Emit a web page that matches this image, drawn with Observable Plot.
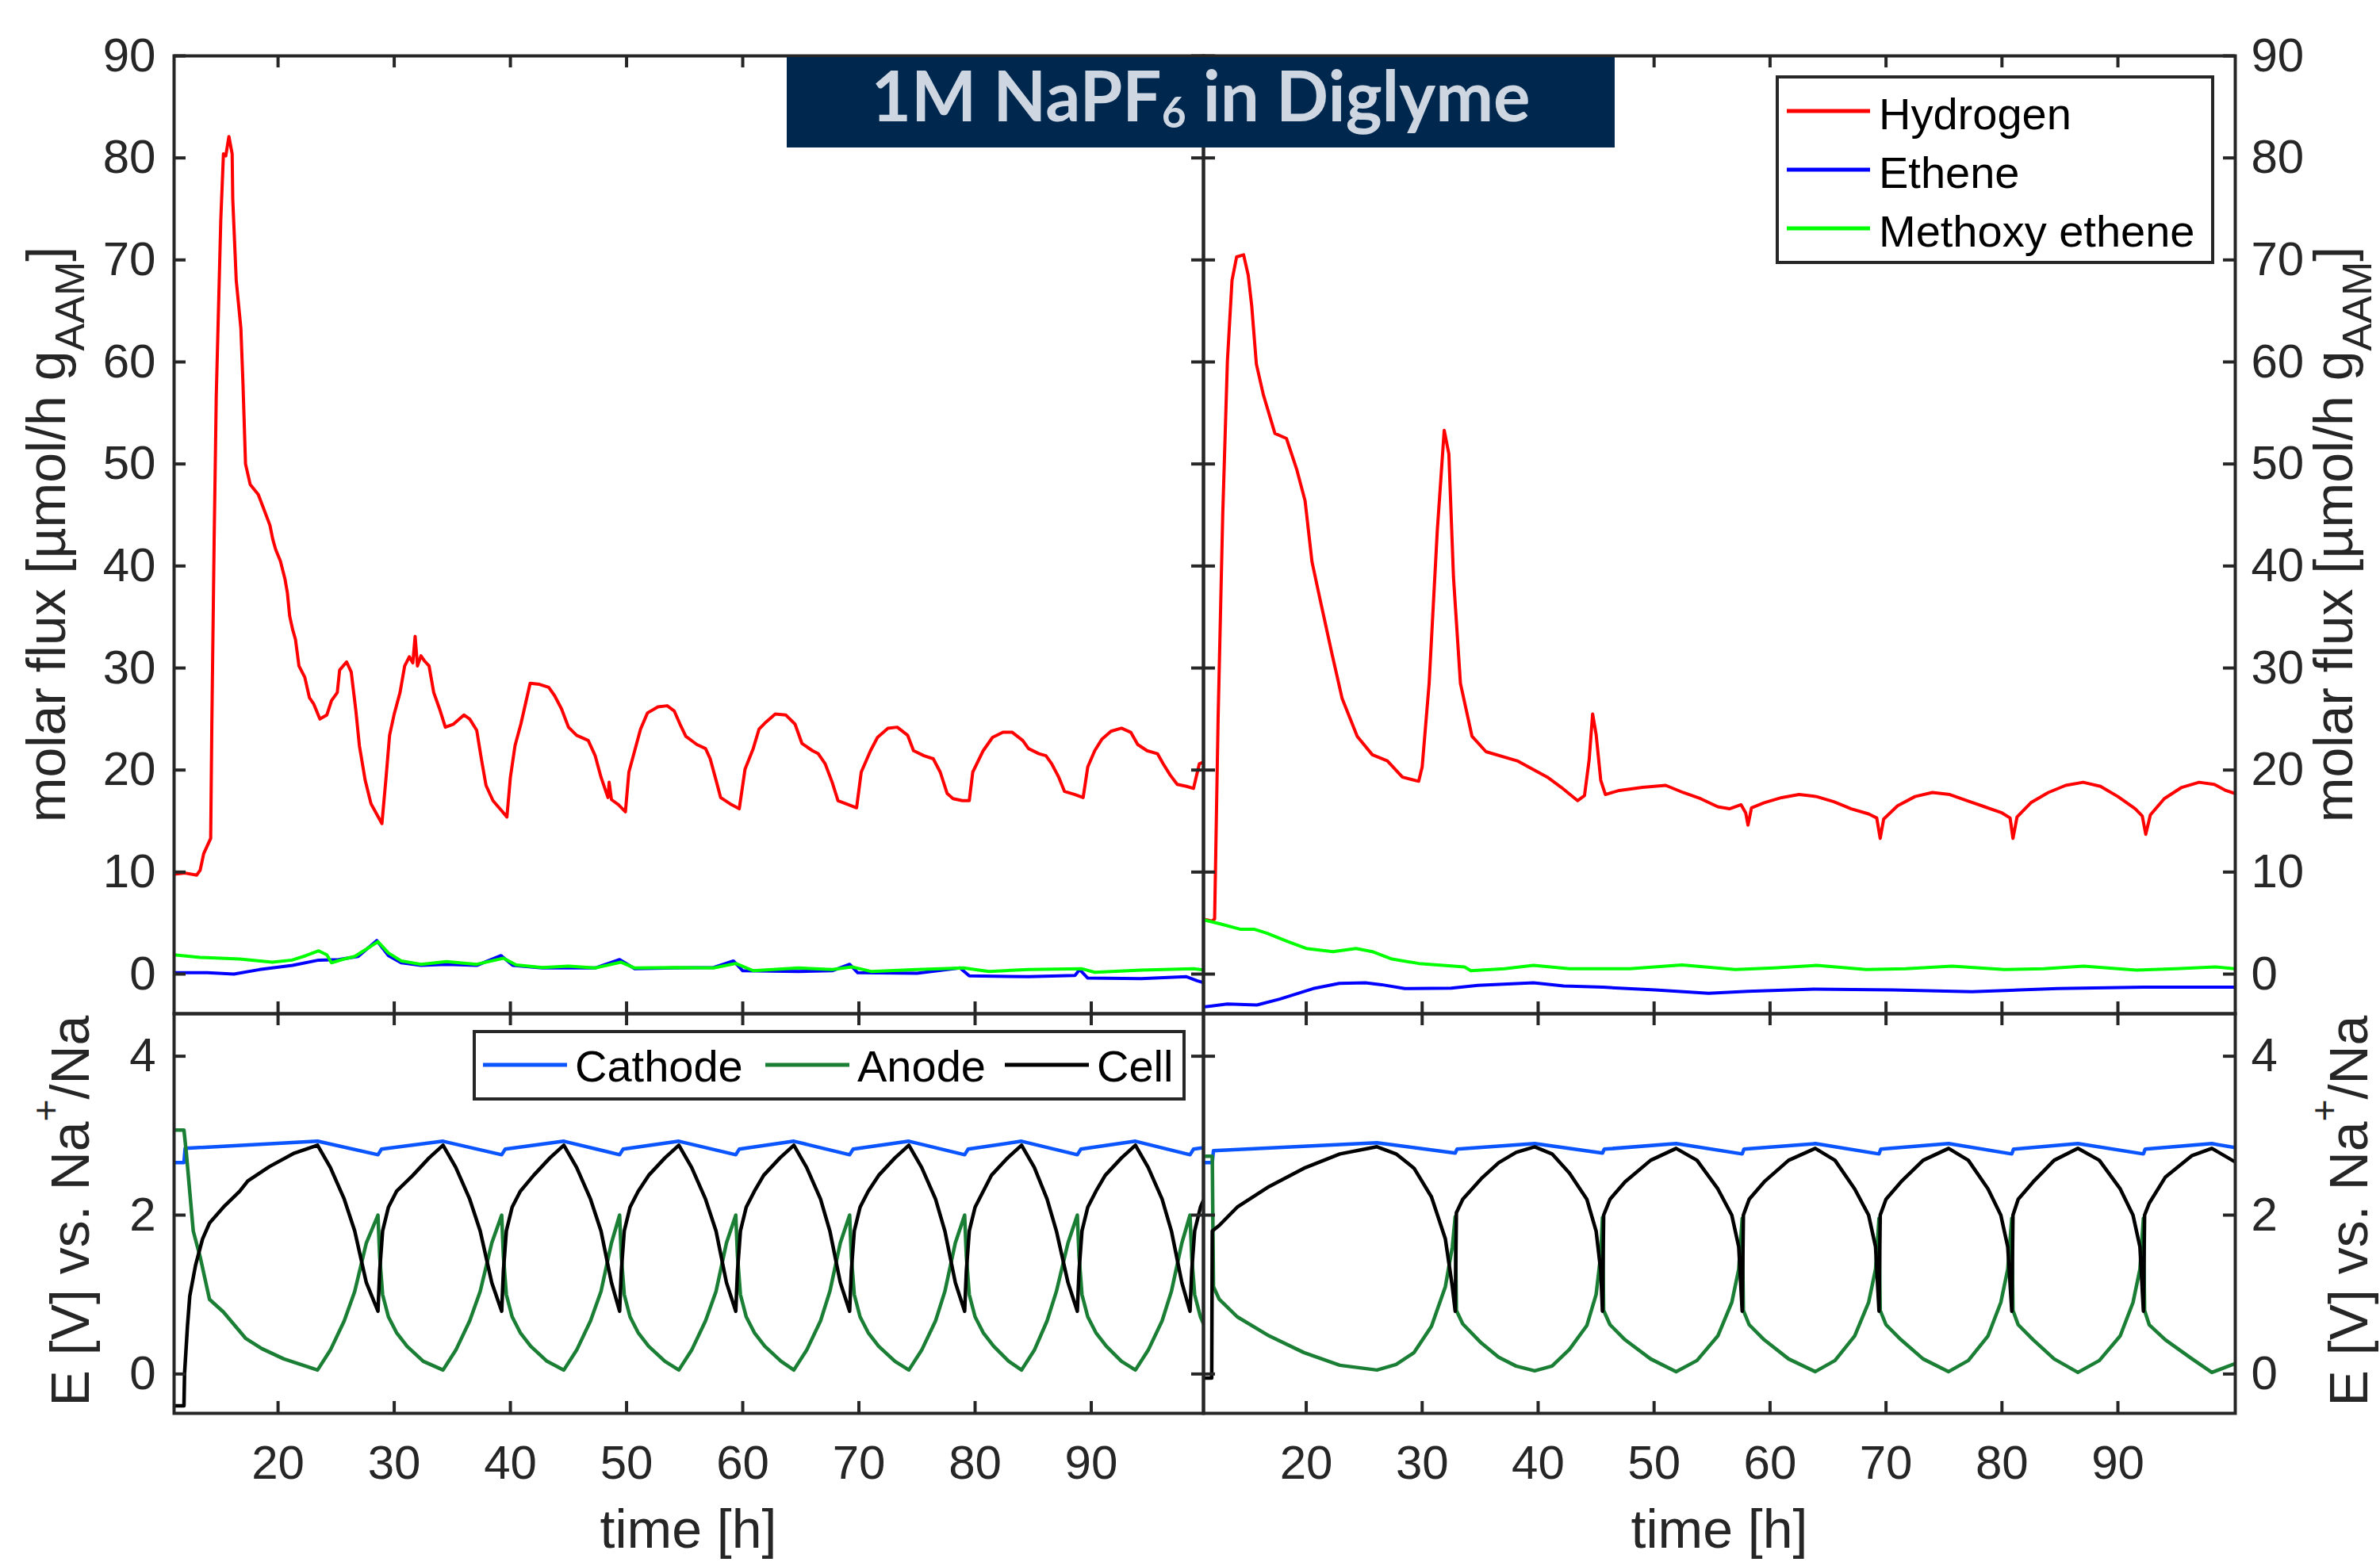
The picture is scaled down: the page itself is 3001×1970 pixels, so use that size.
<!DOCTYPE html>
<html><head><meta charset="utf-8">
<script src="https://cdn.jsdelivr.net/npm/d3@7"></script>
<script src="https://cdn.jsdelivr.net/npm/@observablehq/plot@0.6"></script>
<style>
html,body{margin:0;padding:0;background:#fff;}
#chart{position:relative;width:3001px;height:1970px;overflow:hidden;background:#fff;}
#chart svg{position:absolute;left:0;top:0;}
</style></head><body><div id="chart"></div>
<script>
// ---------------- data ----------------
const xTicks = [20, 30, 40, 50, 60, 70, 80, 90];
const fluxTicks = [0, 10, 20, 30, 40, 50, 60, 70, 80, 90];
const potTicks = [0, 2, 4];
const fluxLegend = ["Hydrogen", "Ethene", "Methoxy ethene"];
const potLegend = ["Cathode", "Anode", "Cell"];

const hydrogenL = [[11.06,9.8],[12.0,9.9],[13.0,9.7],[13.3,10.2],[13.6,11.8],[14.2,13.3],[14.3,24.5],[14.5,42.6],[14.68,56.6],[15.07,73.9],[15.3,80.4],[15.5,80.2],[15.77,82.1],[16.05,80.4],[16.1,76],[16.4,68],[16.8,63.3],[16.98,57.9],[17.2,50],[17.6,48],[18.3,47],[18.8,45.5],[19.3,44],[19.55,42.6],[19.8,41.6],[20.2,40.5],[20.6,38.7],[20.8,37.4],[21.0,35.1],[21.25,33.8],[21.5,32.8],[21.8,30.2],[22.3,29.1],[22.7,27.1],[23.06,26.5],[23.6,25.0],[24.2,25.4],[24.6,26.8],[25.1,27.6],[25.3,29.8],[25.9,30.6],[26.3,29.6],[26.7,25.8],[27.0,22.4],[27.5,19.0],[28.0,16.7],[28.94,14.75],[29.3,19.3],[29.6,23.4],[30.0,25.5],[30.5,27.6],[30.9,30.2],[31.3,31.1],[31.6,30.5],[31.8,33.1],[32.0,30.2],[32.3,31.2],[32.6,30.7],[33.0,30.2],[33.4,27.6],[33.9,26.0],[34.4,24.2],[35.1,24.5],[36.0,25.4],[36.5,25.0],[37.1,23.9],[37.5,21.1],[37.9,18.5],[38.5,17.0],[39.1,16.2],[39.7,15.4],[40.0,19.3],[40.4,22.4],[40.9,24.5],[41.3,26.5],[41.7,28.5],[42.5,28.4],[43.3,28.1],[43.8,27.3],[44.4,26.0],[45.0,24.2],[45.7,23.4],[46.7,22.9],[47.3,21.4],[47.8,19.3],[48.4,17.3],[48.5,18.8],[48.7,17.1],[49.3,16.6],[49.9,15.9],[50.2,19.8],[50.7,21.9],[51.2,24.0],[51.8,25.6],[52.7,26.2],[53.5,26.3],[54.1,25.8],[54.6,24.5],[55.1,23.3],[56.05,22.5],[56.8,22.1],[57.2,21.1],[57.75,18.8],[58.1,17.3],[58.9,16.7],[59.7,16.2],[60.2,20.1],[60.9,22.1],[61.4,24.0],[62.0,24.7],[62.8,25.5],[63.7,25.4],[64.5,24.5],[65.1,22.6],[66.0,21.9],[66.5,21.6],[67.1,20.6],[67.7,18.8],[68.2,17.0],[69.1,16.6],[69.8,16.3],[70.2,19.8],[71.0,21.9],[71.6,23.2],[72.5,24.1],[73.3,24.2],[74.2,23.4],[74.7,21.9],[75.6,21.4],[76.4,21.1],[77.0,19.8],[77.6,17.7],[78.1,17.2],[78.9,17.0],[79.5,17.0],[79.8,19.8],[80.7,21.9],[81.5,23.2],[82.4,23.7],[83.2,23.7],[84.1,22.9],[84.6,22.1],[85.5,21.6],[86.1,21.4],[86.6,20.6],[87.2,19.3],[87.7,17.9],[88.6,17.6],[89.3,17.3],[89.7,20.3],[90.3,21.9],[90.9,23.0],[91.7,23.8],[92.6,24.1],[93.4,23.7],[94.0,22.5],[94.8,21.9],[95.7,21.6],[96.2,20.6],[96.8,19.5],[97.4,18.6],[98.2,18.4],[98.8,18.2],[99.3,20.6],[99.7,20.8]];
const etheneL = [[11.06,0.13],[13.9,0.13],[16.2,0.0],[18.4,0.44],[21.25,0.85],[23.5,1.37],[25.2,1.42],[26.9,1.73],[28.5,3.29],[29.5,1.81],[30.6,1.11],[32.3,0.85],[34.5,0.96],[37.1,0.85],[39.2,1.81],[40.2,0.85],[42.75,0.6],[47.3,0.6],[49.4,1.42],[50.7,0.52],[54.1,0.6],[57.5,0.65],[59.2,1.29],[60.0,0.33],[64.8,0.26],[67.7,0.33],[69.2,0.96],[69.9,0.13],[75.0,0.08],[78.7,0.6],[79.5,-0.18],[84.6,-0.26],[88.6,-0.13],[89.0,0.44],[89.7,-0.39],[94.3,-0.44],[98.2,-0.26],[99.1,-0.65],[99.7,-0.85]];
const methoxyL = [[11.06,1.89],[13.3,1.63],[16.7,1.47],[19.5,1.17],[21.2,1.37],[22.4,1.81],[23.5,2.28],[24.2,1.89],[24.6,1.11],[25.5,1.42],[26.6,1.73],[27.8,2.59],[28.6,3.18],[29.5,2.07],[30.6,1.29],[32.3,0.96],[34.5,1.22],[37.1,0.96],[39.4,1.55],[40.5,0.9],[42.75,0.65],[45.0,0.78],[47.3,0.6],[49.5,1.17],[50.7,0.6],[54.1,0.65],[57.5,0.6],[59.4,1.04],[60.9,0.33],[64.8,0.6],[67.7,0.44],[69.4,0.7],[71.05,0.26],[75.0,0.44],[79.0,0.6],[81.2,0.26],[84.6,0.44],[89.2,0.52],[90.3,0.18],[94.3,0.39],[98.8,0.52],[99.7,0.39]];

const hydrogenR = [[11.0,5.4],[11.9,5.2],[12.1,5.4],[12.4,25],[12.8,45],[13.2,60],[13.6,68],[14.0,70.3],[14.6,70.5],[15.0,68.5],[15.3,65.5],[15.7,59.8],[16.3,56.8],[17.3,53.0],[18.3,52.5],[19.2,49.4],[19.9,46.4],[20.5,40.4],[21.2,36.7],[22.2,31.5],[23.1,27.0],[24.4,23.3],[25.7,21.5],[27.0,20.9],[28.3,19.3],[29.7,18.9],[30.0,20.3],[30.6,28.5],[31.3,43.4],[31.9,53.3],[32.3,51.0],[32.7,38.9],[33.3,28.5],[34.3,23.3],[35.5,21.8],[38.2,20.9],[40.8,19.3],[42.0,18.3],[43.4,17.0],[44.0,17.5],[44.4,21.0],[44.7,25.5],[45.0,23.5],[45.4,19.0],[45.8,17.6],[47.0,18.0],[49.0,18.3],[51.0,18.5],[52.5,17.8],[54.0,17.2],[55.5,16.4],[56.5,16.2],[57.5,16.6],[57.9,15.8],[58.1,14.6],[58.4,16.3],[59.5,16.8],[61.0,17.3],[62.5,17.6],[64.0,17.4],[65.5,16.9],[67.0,16.2],[68.5,15.7],[69.2,15.3],[69.5,13.3],[69.8,15.2],[71.0,16.5],[72.5,17.4],[74.0,17.8],[75.5,17.6],[77.0,17.0],[78.5,16.4],[80.0,15.8],[80.7,15.3],[80.95,13.3],[81.3,15.4],[82.5,16.8],[84.0,17.8],[85.5,18.5],[87.0,18.8],[88.5,18.4],[90.0,17.4],[91.5,16.2],[92.1,15.5],[92.4,13.7],[92.8,15.6],[94.0,17.2],[95.5,18.3],[97.0,18.8],[98.3,18.6],[99.3,18.0],[100.1,17.7]];
const etheneR = [[11.0,-3.24],[13.2,-2.93],[15.75,-3.03],[17.7,-2.46],[20.6,-1.42],[22.85,-0.91],[25.1,-0.85],[26.5,-1.04],[28.5,-1.42],[32.5,-1.37],[34.8,-1.11],[39.6,-0.85],[42.2,-1.17],[45.6,-1.29],[50.1,-1.55],[54.7,-1.89],[58.1,-1.68],[63.8,-1.48],[70.6,-1.55],[77.4,-1.73],[84.8,-1.42],[92.2,-1.29],[100.1,-1.29]];
const methoxyR = [[11.0,5.36],[12.6,4.92],[14.3,4.4],[15.5,4.4],[16.6,4.01],[18.3,3.24],[20.0,2.51],[22.3,2.2],[24.3,2.51],[25.7,2.2],[27.4,1.47],[29.7,1.04],[33.65,0.7],[34.2,0.33],[37.1,0.52],[39.6,0.85],[42.7,0.52],[47.9,0.52],[52.4,0.9],[57.0,0.44],[60.35,0.6],[64.0,0.85],[68.3,0.44],[71.7,0.52],[75.7,0.78],[80.2,0.44],[83.6,0.52],[87.05,0.78],[91.6,0.39],[95.0,0.52],[98.4,0.7],[100.1,0.52]];

const cathodeL = [[11.0,2.66],[11.9,2.66],[12.0,2.84],[23.4,2.93],[28.6,2.76],[28.9,2.83],[34.2,2.93],[39.25,2.76],[39.55,2.83],[44.6,2.93],[49.4,2.76],[49.7,2.83],[54.5,2.93],[59.4,2.76],[59.7,2.83],[64.4,2.93],[69.2,2.76],[69.5,2.83],[74.3,2.93],[79.1,2.76],[79.4,2.83],[84.0,2.93],[88.8,2.76],[89.1,2.83],[93.8,2.93],[98.5,2.76],[98.8,2.83],[99.7,2.85]];
const anodeL = [[11.0,3.07],[11.9,3.07],[12.1,2.79],[12.7,1.8],[13.3,1.47],[14.1,0.94],[15.3,0.78],[17.2,0.45],[18.6,0.32],[20.5,0.19],[23.4,0.05],
[24.5,0.3],[25.7,0.67],[26.6,1.04],[27.6,1.65],[28.6,2.0],
[28.75,1.48],[29.0,1.0],[29.5,0.72],[30.2,0.52],[31.1,0.35],[32.5,0.16],[34.2,0.05],
[35.3,0.3],[36.5,0.67],[37.4,1.04],[38.4,1.65],[39.25,2.0],
[39.4,1.48],[39.65,1.0],[40.15,0.72],[40.85,0.52],[41.75,0.35],[43.15,0.16],[44.6,0.05],
[45.7,0.3],[46.9,0.67],[47.8,1.04],[48.7,1.65],[49.4,2.0],
[49.55,1.48],[49.8,1.0],[50.3,0.72],[51.0,0.52],[51.9,0.35],[53.3,0.16],[54.5,0.05],
[55.6,0.3],[56.8,0.67],[57.7,1.04],[58.6,1.65],[59.4,2.0],
[59.55,1.48],[59.8,1.0],[60.3,0.72],[61.0,0.52],[61.9,0.35],[63.3,0.16],[64.4,0.05],
[65.5,0.3],[66.7,0.67],[67.5,1.04],[68.4,1.65],[69.2,2.0],
[69.35,1.48],[69.6,1.0],[70.1,0.72],[70.8,0.52],[71.7,0.35],[73.1,0.16],[74.3,0.05],
[75.4,0.3],[76.6,0.67],[77.4,1.04],[78.3,1.65],[79.1,2.0],
[79.25,1.48],[79.5,1.0],[80.0,0.72],[80.7,0.52],[81.6,0.35],[82.9,0.16],[84.0,0.05],
[85.1,0.3],[86.2,0.67],[87.0,1.04],[88.0,1.65],[88.8,2.0],
[88.95,1.48],[89.2,1.0],[89.7,0.72],[90.4,0.52],[91.3,0.35],[92.6,0.16],[93.8,0.05],
[94.9,0.3],[96.1,0.67],[96.9,1.04],[97.8,1.65],[98.5,2.0],
[98.65,1.48],[98.9,1.0],[99.4,0.72],[99.7,0.62]];
const cellL = [[11.0,-0.4],[11.9,-0.4],[11.95,0.0],[12.2,0.6],[12.4,0.98],[12.9,1.37],[13.5,1.7],[14.1,1.9],[15.3,2.1],[16.7,2.3],[17.4,2.43],[19.25,2.61],[21.4,2.78],[23.4,2.88],
[24.5,2.6],[25.7,2.2],[26.6,1.8],[27.6,1.15],[28.6,0.79],
[28.75,1.3],[29.0,1.8],[29.5,2.1],[30.2,2.3],[31.6,2.5],[33.0,2.72],[34.2,2.88],
[35.3,2.6],[36.5,2.2],[37.4,1.8],[38.4,1.15],[39.25,0.79],
[39.4,1.3],[39.65,1.8],[40.15,2.1],[40.85,2.3],[42.0,2.5],[43.4,2.72],[44.6,2.88],
[45.7,2.6],[46.9,2.2],[47.8,1.8],[48.7,1.15],[49.4,0.79],
[49.55,1.3],[49.8,1.8],[50.3,2.1],[51.0,2.3],[51.9,2.5],[53.3,2.72],[54.5,2.88],
[55.6,2.6],[56.8,2.2],[57.7,1.8],[58.6,1.15],[59.4,0.79],
[59.55,1.3],[59.8,1.8],[60.3,2.1],[61.0,2.3],[61.8,2.5],[63.2,2.72],[64.4,2.88],
[65.5,2.6],[66.7,2.2],[67.5,1.8],[68.4,1.15],[69.2,0.79],
[69.35,1.3],[69.6,1.8],[70.1,2.1],[70.8,2.3],[71.7,2.5],[73.1,2.72],[74.3,2.88],
[75.4,2.6],[76.6,2.2],[77.4,1.8],[78.3,1.15],[79.1,0.79],
[79.25,1.3],[79.5,1.8],[80.0,2.1],[80.7,2.3],[81.4,2.5],[82.8,2.72],[84.0,2.88],
[85.1,2.6],[86.2,2.2],[87.0,1.8],[88.0,1.15],[88.8,0.79],
[88.95,1.3],[89.2,1.8],[89.7,2.1],[90.4,2.3],[91.2,2.5],[92.6,2.72],[93.8,2.88],
[94.9,2.6],[96.1,2.2],[96.9,1.8],[97.8,1.15],[98.5,0.79],
[98.65,1.3],[98.9,1.8],[99.4,2.1],[99.7,2.2]];

const cathodeR = [[11.0,2.66],[11.9,2.66],[12.0,2.81],[26.1,2.91],[32.85,2.78],[33.0,2.83],[39.7,2.90],[45.55,2.78],[45.7,2.83],[51.9,2.90],[57.6,2.77],[57.75,2.83],[63.9,2.90],[69.4,2.77],[69.55,2.83],[75.4,2.90],[80.85,2.77],[81.0,2.83],[86.55,2.90],[92.2,2.77],[92.35,2.83],[98.1,2.90],[100.1,2.85]];
const anodeR = [[11.0,2.74],[11.9,2.74],[12.0,1.1],[12.5,0.94],[14.05,0.72],[16.8,0.48],[19.8,0.27],[22.9,0.11],[26.1,0.05],
[27.75,0.12],[29.3,0.27],[30.8,0.6],[32.0,1.1],[32.6,1.6],[32.85,1.98],
[32.95,0.8],[33.5,0.63],[35.1,0.39],[36.6,0.21],[38.1,0.1],[39.7,0.04],
[41.2,0.1],[42.7,0.31],[44.2,0.61],[45.0,1.0],[45.4,1.5],[45.55,1.97],
[45.65,0.8],[46.2,0.62],[47.5,0.43],[49.7,0.19],[51.9,0.03],
[53.7,0.17],[55.5,0.48],[56.7,0.9],[57.3,1.32],[57.6,1.96],
[57.7,0.8],[58.2,0.62],[59.5,0.43],[61.6,0.19],[63.9,0.03],
[65.6,0.17],[67.3,0.48],[68.5,0.9],[69.1,1.32],[69.4,1.96],
[69.5,0.8],[70.0,0.62],[71.3,0.43],[73.2,0.19],[75.4,0.03],
[77.1,0.17],[78.8,0.48],[79.9,0.9],[80.5,1.32],[80.85,1.96],
[80.95,0.8],[81.4,0.62],[82.7,0.43],[84.5,0.19],[86.55,0.02],
[88.4,0.17],[90.2,0.48],[91.3,0.9],[91.9,1.32],[92.2,1.96],
[92.3,0.8],[92.7,0.62],[94.1,0.43],[96.4,0.19],[98.1,0.02],
[100.1,0.13]];
const cellR = [[11.0,-0.05],[11.85,-0.05],[11.9,1.8],[12.5,1.87],[14.05,2.1],[16.8,2.36],[19.8,2.59],[22.9,2.77],[26.1,2.86],
[27.75,2.77],[29.3,2.59],[30.8,2.23],[32.0,1.7],[32.6,1.1],[32.85,0.79],
[32.95,2.03],[33.5,2.2],[35.1,2.46],[36.6,2.66],[38.1,2.79],[39.7,2.86],
[41.2,2.77],[42.7,2.53],[44.2,2.2],[45.0,1.8],[45.4,1.3],[45.55,0.79],
[45.65,2.0],[46.2,2.2],[47.5,2.42],[49.7,2.69],[51.9,2.84],
[53.7,2.69],[55.5,2.33],[56.7,2.0],[57.3,1.6],[57.6,0.79],
[57.7,2.0],[58.2,2.2],[59.5,2.42],[61.6,2.69],[63.9,2.84],
[65.6,2.69],[67.3,2.33],[68.5,2.0],[69.1,1.6],[69.4,0.79],
[69.5,2.0],[70.0,2.2],[71.3,2.42],[73.2,2.69],[75.4,2.84],
[77.1,2.69],[78.8,2.33],[79.9,2.0],[80.5,1.6],[80.85,0.79],
[80.95,2.0],[81.4,2.2],[82.7,2.42],[84.5,2.69],[86.55,2.84],
[88.4,2.69],[90.2,2.33],[91.3,2.0],[91.9,1.6],[92.2,0.79],
[92.3,2.0],[92.7,2.15],[94.1,2.48],[96.4,2.75],[98.1,2.84],
[100.1,2.67]];

// ---------------- layout & style ----------------
const W = 3001, H = 1970;
const AX = "#262626";
const FONT = "'Liberation Sans', Arial, Helvetica, sans-serif";
const colors = {Hydrogen: "#ff0000", Ethene: "#0000ff", "Methoxy ethene": "#00ff00",
  Cathode: "#0a55ff", Anode: "#1a7f34", Cell: "#000000"};
const cols = {L: {l: 219, r: 1517, x: [11.05, 99.66]}, R: {l: 1517, r: 2818, x: [11.14, 100.12]}};
const rows = {T: {t: 70, b: 1278, y: [-3.885, 90], ticks: fluxTicks},
              B: {t: 1278, b: 1782, y: [-0.495, 4.535], ticks: potTicks}};

const chart = document.getElementById("chart");
const fmt = d => String(d);

function panel(c, r, series, side, showX) {
  const C = cols[c], R = rows[r];
  const pw = C.r - C.l, ph = R.b - R.t, tk = 15;
  const marks = [];
  for (const s of series) {
    marks.push(Plot.line(s.data, {x: d => d[0], y: d => d[1], stroke: s.color, strokeWidth: s.w || 4, clip: true}));
  }
  marks.push(Plot.tickY(R.ticks, {y: d => d, stroke: AX, strokeWidth: 4, insetRight: pw - tk}));
  marks.push(Plot.tickY(R.ticks, {y: d => d, stroke: AX, strokeWidth: 4, insetLeft: pw - tk}));
  marks.push(Plot.tickX(xTicks, {x: d => d, stroke: AX, strokeWidth: 4, insetBottom: ph - tk}));
  marks.push(Plot.tickX(xTicks, {x: d => d, stroke: AX, strokeWidth: 4, insetTop: ph - tk}));
  marks.push(Plot.frame({stroke: AX, strokeWidth: 4}));
  if (side) marks.push(Plot.axisY(R.ticks, {anchor: side, tickSize: 0, tickPadding: side === "left" ? 23 : 20, label: null, fontSize: 60, tickFormat: fmt}));
  if (showX) marks.push(Plot.axisX(xTicks, {anchor: "bottom", tickSize: 0, tickPadding: 40, label: null, fontSize: 60, tickFormat: fmt}));
  const p = Plot.plot({
    width: W, height: H,
    marginLeft: C.l, marginRight: W - C.r, marginTop: R.t, marginBottom: H - R.b,
    x: {domain: C.x, axis: showX ? undefined : null},
    y: {domain: R.y},
    style: {background: "transparent", fontFamily: FONT, fontSize: "60px", color: AX, maxWidth: "none", overflow: "visible"},
    marks
  });
  chart.appendChild(p);
}

panel("L", "T", [
  {data: hydrogenL, color: colors.Hydrogen},
  {data: etheneL, color: colors.Ethene},
  {data: methoxyL, color: colors["Methoxy ethene"]}], "left", false);
panel("R", "T", [
  {data: hydrogenR, color: colors.Hydrogen},
  {data: etheneR, color: colors.Ethene},
  {data: methoxyR, color: colors["Methoxy ethene"]}], "right", false);
panel("L", "B", [
  {data: cathodeL, color: colors.Cathode, w: 4.5},
  {data: anodeL, color: colors.Anode, w: 4.5},
  {data: cellL, color: colors.Cell, w: 4.5}], "left", true);
panel("R", "B", [
  {data: cathodeR, color: colors.Cathode, w: 4.5},
  {data: anodeR, color: colors.Anode, w: 4.5},
  {data: cellR, color: colors.Cell, w: 4.5}], "right", true);

// ---------------- overlay: labels, title, legends ----------------
const svg = d3.select("#chart").append("svg").attr("width", W).attr("height", H)
  .attr("font-family", FONT);

function rotLabel(x, y, build) {
  const t = svg.append("text").attr("transform", `translate(${x},${y}) rotate(-90)`)
    .attr("text-anchor", "middle").attr("font-size", 68).attr("fill", AX);
  build(t);
}
function fluxLabel(t) {
  t.append("tspan").text("molar flux [µmol/h g");
  t.append("tspan").attr("font-size", 52).attr("dy", 24).text("AAM");
  t.append("tspan").attr("dy", -24).text("]");
}
function potLabel(t) {
  t.append("tspan").text("E [V] vs. Na");
  t.append("tspan").attr("font-size", 48).attr("dy", -38).text("+");
  t.append("tspan").attr("dy", 38).text("/Na");
}
rotLabel(82, 674, fluxLabel);
rotLabel(2966, 674, fluxLabel);
rotLabel(112, 1527, potLabel);
rotLabel(2985, 1527, potLabel);

svg.append("text").attr("x", 868).attr("y", 1952).attr("text-anchor", "middle")
  .attr("font-size", 68).attr("fill", AX).text("time [h]");
svg.append("text").attr("x", 2168).attr("y", 1952).attr("text-anchor", "middle")
  .attr("font-size", 68).attr("fill", AX).text("time [h]");

// title box
svg.append("rect").attr("x", 992).attr("y", 72).attr("width", 1044).attr("height", 114).attr("fill", "#00284f");
const tt = svg.append("text").attr("x", 1514).attr("y", 153).attr("text-anchor", "middle")
  .attr("font-family", "Lato, 'Noto Sans', sans-serif").attr("font-weight", 700)
  .attr("font-size", 88).attr("fill", "#cdd6e1")
  .attr("textLength", 831).attr("lengthAdjust", "spacingAndGlyphs");
tt.append("tspan").text("1M NaPF");
tt.append("tspan").attr("font-size", 54).attr("dy", 8).text("6");
tt.append("tspan").attr("dy", -8).text(" in Diglyme");

// legend 1 (flux)
svg.append("rect").attr("x", 2241).attr("y", 97).attr("width", 549).attr("height", 234)
  .attr("fill", "#fff").attr("stroke", AX).attr("stroke-width", 4);
fluxLegend.forEach((name, i) => {
  const yc = 140 + i * 74;
  svg.append("line").attr("x1", 2253).attr("x2", 2358).attr("y1", yc).attr("y2", yc)
    .attr("stroke", colors[name]).attr("stroke-width", 5);
  svg.append("text").attr("x", 2369).attr("y", yc + 23).attr("font-size", 56).attr("fill", "#000").text(name);
});

// legend 2 (potential)
svg.append("rect").attr("x", 598).attr("y", 1301).attr("width", 895).attr("height", 85)
  .attr("fill", "#fff").attr("stroke", AX).attr("stroke-width", 4);
const lx = [609, 965, 1267];
potLegend.forEach((name, i) => {
  svg.append("line").attr("x1", lx[i]).attr("x2", lx[i] + 106).attr("y1", 1343).attr("y2", 1343)
    .attr("stroke", colors[name]).attr("stroke-width", 5);
  svg.append("text").attr("x", lx[i] + 116).attr("y", 1364).attr("font-size", 56).attr("fill", "#000").text(name);
});
</script>
</body></html>
